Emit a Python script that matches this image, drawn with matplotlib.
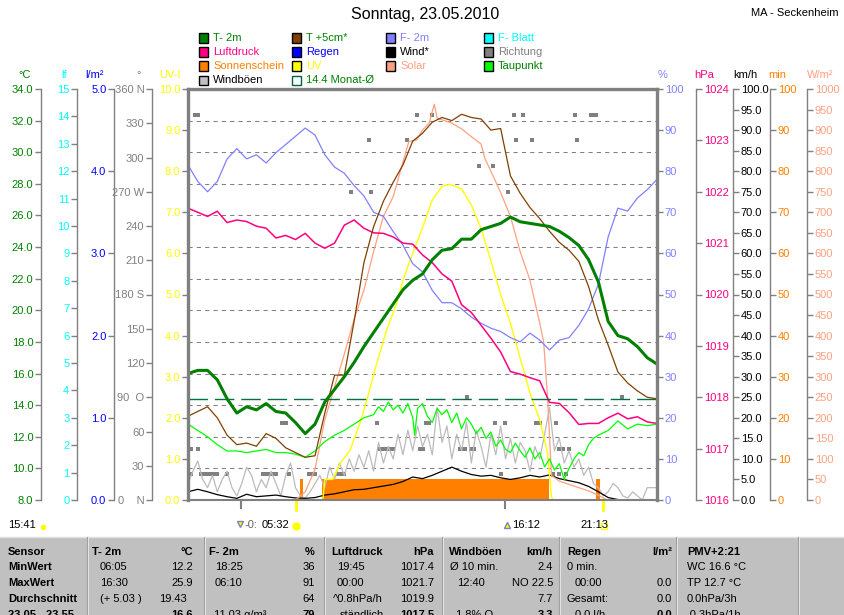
import numpy as np
import matplotlib
matplotlib.use("Agg")
import matplotlib.pyplot as plt
from matplotlib.patches import Rectangle
from matplotlib.lines import Line2D
import matplotlib.transforms as mtransforms

plt.rcParams['font.family'] = ['Liberation Sans', 'DejaVu Sans']
plt.rcParams['font.size'] = 8

# ---------------------------------------------------------------- data
hours = np.arange(0, 24.5, 0.5)          # half-hour time stamps (49)

t2m = [16.0, 16.2, 16.2, 15.6, 14.4, 13.5, 13.9, 13.7, 14.1, 13.6, 13.5, 12.9, 12.2,
       12.8, 14.2, 15.0, 15.8, 16.7, 17.7, 18.6, 19.5, 20.4, 21.3, 21.9, 22.3, 23.2,
       23.8, 23.9, 24.5, 24.5, 25.1, 25.3, 25.5, 25.9, 25.6, 25.5, 25.4, 25.3, 25.0,
       24.6, 24.1, 23.2, 21.8, 19.3, 18.4, 18.2, 17.7, 17.0, 16.6]

t5cm = [13.3, 13.6, 13.9, 13.2, 12.1, 11.5, 11.6, 11.4, 12.2, 11.9, 11.3, 11.0, 10.7,
        10.8, 13.5, 15.9, 15.9, 19.3, 23.0, 25.3, 26.9, 28.1, 29.2, 30.7, 31.2, 31.9,
        32.2, 32.0, 32.4, 32.2, 32.1, 31.4, 31.5, 28.5, 27.4, 26.5, 25.8, 25.0, 24.3,
        23.8, 23.1, 21.5, 19.4, 17.8, 16.1, 15.4, 14.9, 14.5, 14.4]

f2m = [81.5, 77.5, 75.0, 77.5, 83.0, 85.5, 83.0, 84.0, 82.0, 84.5, 86.5, 88.5, 90.5,
       88.8, 84.0, 81.0, 79.5, 76.5, 74.0, 70.0, 69.0, 65.3, 62.0, 57.5, 55.5, 51.0,
       48.0, 48.0, 46.5, 44.5, 43.0, 41.8, 41.0, 39.5, 38.5, 40.6, 38.9, 36.5, 38.9,
       39.5, 42.5, 46.5, 52.5, 64.0, 71.0, 70.3, 73.5, 75.5, 78.0]

pressure = [1021.68, 1021.6, 1021.52, 1021.62, 1021.4, 1021.45, 1021.42, 1021.33,
            1021.29, 1021.1, 1021.15, 1021.07, 1021.19, 1021.0, 1020.9, 1021.0,
            1021.35, 1021.45, 1021.29, 1021.2, 1021.19, 1021.12, 1021.0, 1020.98,
            1020.77, 1020.62, 1020.4, 1020.26, 1019.8, 1019.65, 1019.4, 1019.15,
            1018.88, 1018.5, 1018.45, 1018.38, 1018.32, 1017.9, 1017.88, 1017.7,
            1017.47, 1017.49, 1017.49, 1017.6, 1017.69, 1017.58, 1017.62, 1017.52,
            1017.49]

wind = [2.0, 2.6, 2.0, 1.3, 0.8, 0.4, 1.4, 0.8, 1.0, 1.2, 0.8, 0.5, 0.4, 0.6, 1.2, 1.5,
        2.0, 2.5, 2.6, 3.0, 3.4, 3.8, 4.5, 5.6, 5.2, 6.0, 7.0, 8.0, 7.0, 6.2, 5.8, 6.0,
        5.4, 5.0, 5.4, 6.0, 5.6, 6.1, 5.2, 4.7, 4.2, 3.3, 2.0, 0.6, 0.1, 0.0, 0.0, 0.0,
        0.0]

gust_t = np.arange(0, 24.01, 0.25)       # quarter-hour time stamps (97)
gust = [4, 7, 9.5, 5, 3, 6, 2, 5, 7, 3, 1, 4, 8, 6, 2, 5, 3, 7, 4, 1, 6, 9, 3, 1,
        0.5, 2, 4, 6, 3, 8, 5, 9, 6, 10, 7, 11, 8, 12, 7, 14, 9, 13, 10, 16, 11, 17,
        12, 18, 13, 16, 11, 22.5, 14, 18, 10, 16, 12, 19, 9, 17, 13, 8, 16, 11, 18, 10,
        15, 9, 14, 12, 7, 13, 10, 16, 22.5, 12, 15, 9, 12, 8, 10, 6, 8, 4, 3, 1, 2, 4,
        3, 1, 0.5, 2, 1, 0, 3, 3, 3]

solar_t = [0, 5.5, 6.0, 6.5, 7.0, 7.5, 8.0, 8.5, 9.0, 9.5, 10.0, 10.5, 11.0, 11.3, 11.7,
           12.0, 12.35, 12.6, 12.75, 13.0, 13.5, 14.0, 14.5, 15.0, 15.2, 15.5, 16.0,
           16.5, 17.0, 17.5, 18.0, 18.2, 18.4, 18.6, 19.0, 19.5, 20.0, 20.5, 21.0,
           21.4, 24]
solar = [0, 0, 20, 75, 195, 275, 355, 440, 510, 605, 690, 738, 822, 872, 876, 900, 918,
         963, 929, 925, 917, 903, 884, 866, 830, 800, 748, 690, 604, 535, 430, 385, 250,
         60, 46, 38, 30, 22, 12, 1, 0]

uv_t = [0, 6.9, 7.0, 7.4, 7.8, 8.3, 8.8, 9.15, 9.66, 10.17, 10.68, 11.0, 11.5, 12.0,
        12.5, 13.0, 13.4, 14.0, 14.5, 15.0, 15.5, 16.0, 16.5, 17.0, 17.5, 18.0, 18.4,
        18.6, 18.65, 24]
uv = [0, 0, 0.5, 0.5, 0.9, 1.22, 1.87, 2.43, 3.33, 4.14, 4.79, 5.35, 6.0, 6.62, 7.3,
      7.63, 7.68, 7.57, 7.18, 6.6, 5.82, 5.0, 4.3, 3.45, 2.6, 1.95, 1.15, 0.1, 0, 0]

dew_t = [0, 0.5, 1, 1.5, 2, 2.5, 3, 3.5, 4, 4.5, 5, 5.5, 6, 6.5, 7, 7.5, 8, 8.5, 9, 9.5,
         9.75, 10, 10.25, 10.5, 10.75, 11, 11.25, 11.5, 11.6, 11.75, 12, 12.25, 12.5,
         12.75, 13, 13.25, 13.5, 13.75, 14, 14.25, 14.5, 14.75, 15, 15.25, 15.5, 15.75,
         16, 16.25, 16.5, 16.75, 17, 17.25, 17.5, 17.75, 18, 18.25, 18.5, 18.75, 19,
         19.25, 19.5, 19.75, 20, 20.25, 20.5, 20.75, 21, 21.5, 22, 22.5, 23, 23.5, 24]
dew = [12.8, 12.4, 12.0, 11.5, 11.1, 11.1, 11.0, 11.1, 11.2, 11.0, 11.0, 10.9, 10.7,
       11.1, 11.7, 12.1, 12.4, 12.8, 13.2, 13.4, 13.9, 13.6, 14.2, 13.7, 14.0, 13.5,
       14.1, 13.2, 12.1, 13.8, 14.1, 13.3, 12.9, 13.8, 13.4, 13.7, 12.9, 13.5, 12.5,
       13.2, 12.8, 12.2, 12.6, 11.9, 12.3, 11.4, 11.8, 11.2, 11.0, 11.6, 11.1, 10.7,
       11.3, 10.6, 11.0, 10.1, 10.6, 9.9, 10.3, 9.3, 10.0, 10.6, 11.0, 10.8, 11.5, 11.9,
       12.1, 12.4, 13.0, 12.5, 12.8, 12.7, 12.8]

sun_start = [5.73, 6.85, 20.90]           # sunshine bars (5-min resolution)
sun_end = [5.87, 18.47, 21.07]
sun_min = [5, 5, 5]

dir_t = [0.0, 0.17, 0.17, 0.35, 0.5, 0.5, 0.67, 0.83, 1.0, 1.17, 1.33, 1.5, 2.0, 3.83,
         4.0, 4.17, 4.33, 4.5, 4.83, 5.0, 5.17, 6.17, 6.33, 6.5, 7.67, 7.83, 8.0, 8.35,
         9.26, 9.37, 9.67, 9.83, 10.0, 10.17, 10.33, 10.5, 11.2, 11.7, 11.87, 12.03,
         12.2, 12.35, 12.47, 13.9, 14.05, 14.2, 14.3, 14.5, 14.65, 14.9, 15.6, 15.7,
         16.0, 16.2, 16.4, 16.7, 16.8, 17.16, 17.6, 17.83, 18.0, 18.7, 18.85, 19.0,
         19.0, 19.17, 19.33, 19.5, 19.8, 19.9, 20.6, 20.75, 20.9, 22.2]
dir_deg = [22.5, 22.5, 45, 337.5, 337.5, 45, 22.5, 22.5, 22.5, 22.5, 22.5, 22.5, 22.5,
           22.5, 22.5, 22.5, 22.5, 22.5, 67.5, 67.5, 22.5, 22.5, 22.5, 22.5, 22.5, 22.5,
           22.5, 270, 315, 270, 67.5, 45, 45, 45, 45, 45, 315, 337.5, 45, 45, 67.5, 67.5,
           337.5, 45, 45, 45, 90, 45, 45, 292.5, 292.5, 67.5, 22.5, 67.5, 270, 337.5,
           315, 337.5, 315, 67.5, 67.5, 22.5, 67.5, 22.5, 45, 45, 22.5, 45, 337.5, 315,
           337.5, 337.5, 337.5, 90]

month_avg = 14.4
sun_events = [5.533, 21.217]     # sunrise / sunset
moon_events = [2.73, 16.2]

x_ticks = list(range(0, 25, 2))
x_labels = [f'{h:02d}:00' for h in x_ticks]

# ---------------------------------------------------------------- figure
FW, FH = 845, 615
fig = plt.figure(figsize=(FW / 100, FH / 100), dpi=100)


def px_rect(x0, y0, x1, y1):
    return [x0 / FW, 1 - y1 / FH, (x1 - x0) / FW, (y1 - y0) / FH]


def fx(x):
    return x / FW


def fy(y):
    return 1 - y / FH


RECT = px_rect(188, 89, 657, 500)
GRAY = '#808080'

base = fig.add_axes(RECT)
base.set_xlim(0, 24)
base.set_ylim(8, 34)
base.set_yticks(np.arange(8, 35, 2))
base.tick_params(axis='y', left=False, labelleft=False)
base.set_xticks(x_ticks)
base.set_xticklabels(x_labels)
base.tick_params(axis='x', direction='out', length=4, width=1, color=GRAY, pad=3,
                 labelsize=8)
base.grid(True, color=GRAY, linestyle=(0, (4, 4)), linewidth=0.75)
for s in base.spines.values():
    s.set_visible(False)


def scale_axis(ylim, side, pos, ticks, labels, color, spine_visible=True):
    a = fig.add_axes(RECT, sharex=base)
    a.patch.set_visible(False)
    a.set_ylim(*ylim)
    a.xaxis.set_visible(False)
    for s in a.spines.values():
        s.set_visible(False)
    sp = a.spines[side]
    sp.set_position(('axes', pos))
    sp.set_visible(spine_visible)
    sp.set_color(GRAY)
    sp.set_linewidth(1)
    a.yaxis.set_ticks_position(side)
    a.set_yticks(ticks)
    a.set_yticklabels(labels)
    a.tick_params(axis='y', direction='out', length=4, width=1, color=GRAY,
                  labelcolor=color, pad=1.5, labelsize=8)
    return a


def xpos(px):
    return (px - 188) / 469.0


# data axes (creation order = drawing order)
ax_min = scale_axis((0, 100), 'right', xpos(770), np.arange(0, 101, 10),
                    [str(v) for v in range(0, 101, 10)], '#FF8000')
ax_dir = scale_axis((0, 360), 'left', xpos(152), np.arange(0, 361, 30),
                    ['0    N', '30', '60', '90  O', '120', '150', '180 S', '210', '240',
                     '270 W', '300', '330', '360 N'], GRAY)
ax_kmh = scale_axis((0, 100), 'right', xpos(733), np.arange(0, 101, 5),
                    [f'{v:.1f}' for v in range(0, 101, 5)], '#000000')
ax_sol = scale_axis((0, 1000), 'right', xpos(807), np.arange(0, 1001, 50),
                    [str(v) for v in range(0, 1001, 50)], '#FFA080')
ax_uv = scale_axis((0, 10), 'left', 0.0, np.arange(0, 11, 1),
                   [f'{v:.1f}' for v in range(0, 11)], '#FFFF00', spine_visible=False)
ax_f = scale_axis((0, 100), 'right', 1.0, np.arange(0, 101, 10),
                  [str(v) for v in range(0, 101, 10)], '#8080FF', spine_visible=False)
ax_p = scale_axis((1016, 1024), 'right', xpos(696), np.arange(1016, 1025, 1),
                  [str(v) for v in range(1016, 1025)], '#FF0080')
ax_t = scale_axis((8, 34), 'left', xpos(41), np.arange(8, 35, 2),
                  [f'{v:.1f}' for v in range(8, 35, 2)], '#008000')
ax_lf = scale_axis((0, 15), 'left', xpos(77), np.arange(0, 16, 1),
                   [str(v) for v in range(0, 16)], '#00FFFF')
ax_rain = scale_axis((0, 5), 'left', xpos(114), np.arange(0, 6, 1),
                     [f'{v:.1f}' for v in range(0, 6)], '#0000FF')

# sunshine bars
ax_min.bar(sun_start, sun_min, width=np.array(sun_end) - np.array(sun_start),
           align='edge', color='#FF8000', linewidth=0)
ax_min.axhline(0, color='#FF8000', lw=1.2)
# wind direction dots
ax_dir.plot(dir_t, dir_deg, linestyle='none', marker='s', ms=2.2, color=GRAY, mew=0)
# gusts and wind
ax_kmh.plot(gust_t, gust, color='#BBBBBB', lw=0.9)
ax_kmh.plot(hours, wind, color='#000000', lw=0.9)
# solar and UV
ax_sol.plot(solar_t, solar, color='#FFA080', lw=0.9)
ax_uv.plot(uv_t, uv, color='#FFFF00', lw=1.0)
# humidity and pressure
ax_f.plot(hours, f2m, color='#8080FF', lw=0.9)
ax_p.plot(hours, pressure, color='#FF0080', lw=1.1)
# temperatures
ax_t.axhline(month_avg, color='#007040', lw=1.0, linestyle=(0, (14, 5)))
ax_t.plot(dew_t, dew, color='#00FF00', lw=0.9)
ax_t.plot(hours, t5cm, color='#804000', lw=0.9)
ax_t.plot(hours, t2m, color='#008000', lw=2.2)

# sunrise/sunset & moon markers below the axis
trans = mtransforms.blended_transform_factory(base.transData, base.transAxes)
for t in sun_events:
    base.plot([t, t], [0, -0.025], transform=trans, color='#FFFF00', lw=2,
              clip_on=False)
for t in moon_events:
    base.plot([t, t], [0, -0.02], transform=trans, color=GRAY, lw=1.5, clip_on=False)

# frame overlay
frame = fig.add_axes(RECT, sharex=base)
frame.patch.set_visible(False)
frame.set_xticks([])
frame.set_yticks([])
for k, s in frame.spines.items():
    s.set_color(GRAY)
    s.set_linewidth(2.4 if k != 'bottom' else 1.5)

# unit labels
units_left = [('°C', 25, '#008000'), ('lf', 64, '#00FFFF'), ('l/m²', 95, '#0000FF'),
              ('°', 139, GRAY), ('UV-I', 170, '#FFFF00')]
units_right = [('%', 663, '#8080FF'), ('hPa', 704, '#FF0080'), ('km/h', 745, '#000000'),
               ('min', 777, '#FF8000'), ('W/m²', 820, '#FFA080')]
for txt, x, c in units_left + units_right:
    fig.text(fx(x), fy(75), txt, color=c, ha='center', va='center', fontsize=8)

# title
fig.text(fx(425), fy(15), 'Sonntag, 23.05.2010', ha='center', va='center', fontsize=11.5)
fig.text(fx(795), fy(13), 'MA - Seckenheim', ha='center', va='center', fontsize=8)

# legend
leg_cols = [199, 292, 386, 484]
leg_rows = [38, 52, 66, 80]
legend_items = [
    (0, 0, 'T- 2m', '#008000', '#008000'),
    (1, 0, 'T +5cm*', '#804000', '#008000'),
    (2, 0, 'F- 2m', '#8080FF', '#8080FF'),
    (3, 0, 'F- Blatt', '#00FFFF', '#00FFFF'),
    (0, 1, 'Luftdruck', '#FF0080', '#FF0080'),
    (1, 1, 'Regen', '#0000FF', '#0000FF'),
    (2, 1, 'Wind*', '#000000', '#000000'),
    (3, 1, 'Richtung', '#808080', '#808080'),
    (0, 2, 'Sonnenschein', '#FF8000', '#FF8000'),
    (1, 2, 'UV', '#FFFF00', '#FFFF00'),
    (2, 2, 'Solar', '#FFA080', '#FFA080'),
    (3, 2, 'Taupunkt', '#00FF00', '#008000'),
    (0, 3, 'Windböen', '#C0C0C0', '#000000'),
    (1, 3, '14.4 Monat-Ø', None, '#008000'),
]
for c, r, label, sw, tc in legend_items:
    x0, yc = leg_cols[c], leg_rows[r]
    if sw is None:
        rect = Rectangle((fx(x0), fy(yc + 4.5)), 9 / FW, 9 / FH, transform=fig.transFigure,
                         facecolor='white', edgecolor='#006040', lw=1)
    else:
        rect = Rectangle((fx(x0), fy(yc + 4.5)), 9 / FW, 9 / FH, transform=fig.transFigure,
                         facecolor=sw, edgecolor='black', lw=1)
    fig.add_artist(rect)
    fig.text(fx(x0 + 14), fy(yc), label, color=tc, ha='left', va='center', fontsize=8)

# sun / moon times row
yrow = 525
fig.text(fx(8), fy(yrow), '15:41', ha='left', va='center', fontsize=8)
fig.add_artist(Line2D([fx(43)], [fy(yrow + 2)], marker='o', ms=3, color='#FFFF00',
                      transform=fig.transFigure))
fig.add_artist(Line2D([fx(240)], [fy(yrow - 1)], marker='v', ms=4, color='#FFFF00',
                      mec='#8080C0', transform=fig.transFigure))
fig.text(fx(245), fy(yrow), '-0:', ha='left', va='center', fontsize=8, color='#606060')
fig.text(fx(262), fy(yrow), '05:32', ha='left', va='center', fontsize=8)
fig.add_artist(Line2D([fx(296)], [fy(yrow + 1)], marker='o', ms=5, color='#FFFF00',
                      transform=fig.transFigure))
fig.add_artist(Line2D([fx(507)], [fy(yrow)], marker='^', ms=4, color='#FFFF00',
                      mec='#8080C0', transform=fig.transFigure))
fig.text(fx(512), fy(yrow), '16:12', ha='left', va='center', fontsize=8)
fig.text(fx(580), fy(yrow), '21:13', ha='left', va='center', fontsize=8)
fig.add_artist(Line2D([fx(604)], [fy(yrow + 1)], marker='s', ms=4, mfc='none',
                      mec='#FFFF00', transform=fig.transFigure))

# table
fig.add_artist(Rectangle((0, 0), 1, fy(537), transform=fig.transFigure,
                         facecolor='#C0C0C0', edgecolor='none'))
fig.add_artist(Line2D([0, 1], [fy(537), fy(537)], color='#E0E0E0', lw=1,
                      transform=fig.transFigure))
for xs in [88, 205, 325, 443, 560, 677, 799]:
    fig.add_artist(Line2D([fx(xs), fx(xs)], [0, fy(537)], color='#F0F0F0', lw=1.2,
                          transform=fig.transFigure))
    fig.add_artist(Line2D([fx(xs - 1.2), fx(xs - 1.2)], [0, fy(537)], color='#A0A0A0',
                          lw=0.8, transform=fig.transFigure))

rows_y = [552, 567, 583, 599, 615]
left_col = ['Sensor', 'MinWert', 'MaxWert', 'Durchschnitt', '23.05 - 23.55']
for y, t in zip(rows_y, left_col):
    fig.text(fx(8), fy(y), t, ha='left', va='center', fontsize=8, fontweight='bold')

cells = [
    # (x, row, text, align, bold)
    (92, 0, 'T- 2m', 'left', True), (193, 0, '°C', 'right', True),
    (100, 1, '06:05', 'left', False), (193, 1, '12.2', 'right', False),
    (100, 2, '16:30', 'left', False), (193, 2, '25.9', 'right', False),
    (100, 3, '(+ 5.03 )', 'left', False), (187, 3, '19.43', 'right', False),
    (193, 4, '16.6', 'right', True),
    (209, 0, 'F- 2m', 'left', True), (315, 0, '%', 'right', True),
    (215, 1, '18:25', 'left', False), (315, 1, '36', 'right', False),
    (215, 2, '06:10', 'left', False), (315, 2, '91', 'right', False),
    (315, 3, '64', 'right', False),
    (214, 4, '11.03 g/m³', 'left', False), (315, 4, '79', 'right', True),
    (331, 0, 'Luftdruck', 'left', True), (434, 0, 'hPa', 'right', True),
    (337, 1, '19:45', 'left', False), (434, 1, '1017.4', 'right', False),
    (337, 2, '00:00', 'left', False), (434, 2, '1021.7', 'right', False),
    (333, 3, '^0.8hPa/h', 'left', False), (434, 3, '1019.9', 'right', False),
    (340, 4, 'ständlich', 'left', False), (434, 4, '1017.5', 'right', True),
    (449, 0, 'Windböen', 'left', True), (553, 0, 'km/h', 'right', True),
    (450, 1, 'Ø 10 min.', 'left', False), (553, 1, '2.4', 'right', False),
    (457, 2, '12:40', 'left', False), (553, 2, 'NO 22.5', 'right', False),
    (553, 3, '7.7', 'right', False),
    (456, 4, '1.8% O', 'left', False), (553, 4, '3.3', 'right', True),
    (567, 0, 'Regen', 'left', True), (672, 0, 'l/m²', 'right', True),
    (567, 1, '0 min.', 'left', False),
    (575, 2, '00:00', 'left', False), (672, 2, '0.0', 'right', False),
    (567, 3, 'Gesamt:', 'left', False), (672, 3, '0.0', 'right', False),
    (575, 4, '0.0 l/h', 'left', False), (672, 4, '0.0', 'right', True),
    (687, 0, 'PMV+2:21', 'left', True),
    (687, 1, 'WC 16.6 °C', 'left', False),
    (687, 2, 'TP 12.7 °C', 'left', False),
    (687, 3, '0.0hPa/3h', 'left', False),
    (687, 4, '-0.3hPa/1h', 'left', False),
]
for x, r, t, al, b in cells:
    fig.text(fx(x), fy(rows_y[r]), t, ha=al, va='center', fontsize=8,
             fontweight='bold' if b else 'normal')

fig.savefig('out.png', dpi=100)
